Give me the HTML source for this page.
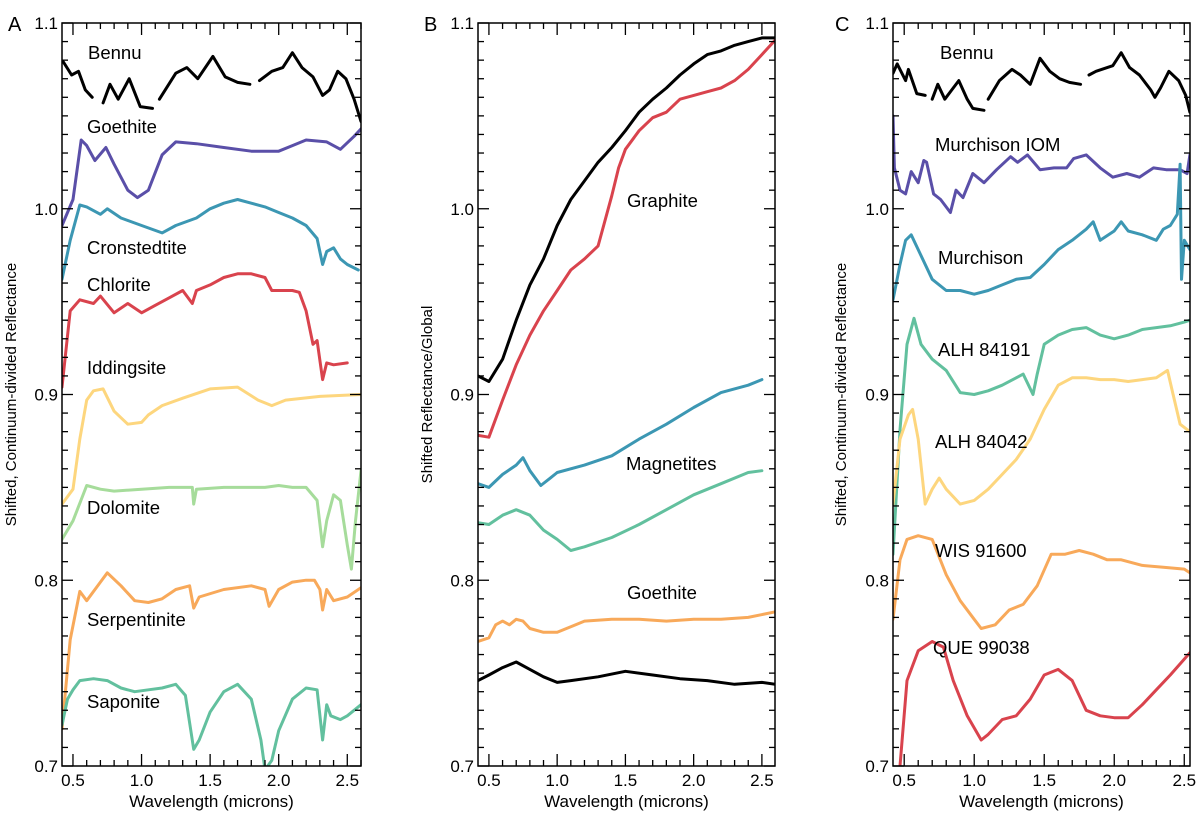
<!DOCTYPE html>
<html><head><meta charset="utf-8">
<style>
html,body{margin:0;padding:0;background:#fff;}
svg{display:block;font-family:"Liberation Sans",Arial,sans-serif;}
</style></head>
<body>
<svg id="chart" width="1200" height="813" viewBox="0 0 1200 813" xmlns="http://www.w3.org/2000/svg"></svg>
<script>
// ---- Panel A data (wavelength, reflectance) ----
const aBennuX=[0.43,0.49,0.54,0.59,0.64,null,0.72,0.77,0.83,0.91,0.99,1.08,null,1.13,1.25,1.33,1.41,1.52,1.61,1.70,1.79,null,1.86,1.95,2.03,2.10,2.17,2.25,2.32,2.37,2.43,2.49,2.55,2.60];
const aBennuY=[1.079,1.072,1.074,1.064,1.060,null,1.057,1.067,1.059,1.070,1.055,1.054,null,1.059,1.073,1.076,1.070,1.082,1.071,1.068,1.067,null,1.069,1.074,1.076,1.084,1.076,1.071,1.061,1.064,1.074,1.070,1.059,1.047];
const aGoeX=[0.42,0.5,0.56,0.6,0.66,0.74,0.8,0.9,0.97,1.05,1.15,1.25,1.4,1.6,1.8,2.0,2.1,2.2,2.35,2.45,2.55,2.6];
const aGoeY=[0.991,1.005,1.037,1.034,1.026,1.033,1.024,1.010,1.006,1.010,1.029,1.036,1.035,1.033,1.031,1.031,1.034,1.037,1.036,1.032,1.039,1.043];
const aCroX=[0.42,0.48,0.55,0.6,0.7,0.75,0.85,1.0,1.15,1.25,1.4,1.5,1.6,1.7,1.8,1.9,2.0,2.1,2.2,2.28,2.32,2.35,2.4,2.45,2.5,2.58];
const aCroY=[0.962,0.983,1.002,1.001,0.997,1.000,0.995,0.991,0.987,0.991,0.995,1.000,1.003,1.005,1.003,1.001,0.998,0.995,0.991,0.984,0.970,0.977,0.979,0.973,0.970,0.967];
const aChlX=[0.42,0.48,0.55,0.65,0.7,0.8,0.9,1.0,1.1,1.2,1.3,1.37,1.4,1.5,1.6,1.7,1.8,1.9,1.95,2.0,2.1,2.15,2.2,2.25,2.28,2.32,2.35,2.4,2.5];
const aChlY=[0.904,0.945,0.951,0.949,0.953,0.944,0.949,0.944,0.948,0.952,0.956,0.949,0.956,0.959,0.963,0.965,0.965,0.963,0.956,0.956,0.956,0.955,0.945,0.927,0.929,0.908,0.917,0.916,0.917];
const aIddX=[0.42,0.5,0.55,0.6,0.65,0.72,0.8,0.9,1.0,1.05,1.15,1.3,1.5,1.7,1.85,1.95,2.05,2.3,2.6];
const aIddY=[0.841,0.849,0.876,0.897,0.902,0.903,0.891,0.884,0.885,0.889,0.894,0.898,0.903,0.904,0.897,0.894,0.897,0.899,0.900];
const aDolX=[0.42,0.5,0.6,0.7,0.8,1.0,1.2,1.37,1.38,1.4,1.6,1.8,1.9,2.0,2.1,2.2,2.28,2.32,2.35,2.4,2.45,2.5,2.53,2.56,2.6];
const aDolY=[0.822,0.832,0.851,0.849,0.848,0.849,0.850,0.850,0.841,0.849,0.850,0.850,0.850,0.851,0.850,0.850,0.843,0.818,0.832,0.846,0.843,0.819,0.806,0.832,0.859];
const aSerX=[0.42,0.48,0.55,0.6,0.7,0.75,0.85,0.95,1.05,1.15,1.25,1.35,1.38,1.42,1.6,1.8,1.9,1.93,2.0,2.1,2.2,2.26,2.3,2.32,2.35,2.4,2.5,2.6];
const aSerY=[0.720,0.768,0.794,0.789,0.799,0.804,0.797,0.789,0.788,0.790,0.795,0.797,0.785,0.791,0.795,0.797,0.795,0.786,0.795,0.799,0.800,0.800,0.795,0.784,0.795,0.789,0.791,0.796];
const aSapX=[0.42,0.46,0.5,0.55,0.65,0.75,0.85,0.95,1.05,1.15,1.25,1.32,1.38,1.42,1.5,1.6,1.7,1.8,1.87,1.9,1.95,2.0,2.1,2.2,2.28,2.32,2.35,2.38,2.45,2.5,2.6];
const aSapY=[0.722,0.736,0.741,0.746,0.747,0.746,0.742,0.740,0.741,0.742,0.744,0.738,0.709,0.714,0.729,0.740,0.744,0.736,0.714,0.698,0.703,0.719,0.736,0.742,0.741,0.714,0.733,0.727,0.725,0.727,0.733];
// ---- Panel B data ----
const bTopX=[0.42,0.5,0.6,0.7,0.8,0.9,1.0,1.1,1.2,1.3,1.4,1.5,1.6,1.7,1.8,1.9,2.0,2.1,2.2,2.3,2.4,2.5,2.6];
const bTopY=[0.910,0.907,0.919,0.940,0.959,0.973,0.991,1.005,1.015,1.025,1.033,1.042,1.052,1.059,1.065,1.072,1.078,1.083,1.085,1.088,1.090,1.092,1.092];
const bGraX=[0.42,0.5,0.6,0.7,0.8,0.9,1.0,1.1,1.2,1.3,1.4,1.45,1.5,1.6,1.7,1.8,1.9,2.0,2.1,2.2,2.3,2.4,2.5,2.6];
const bGraY=[0.878,0.877,0.897,0.916,0.932,0.945,0.956,0.967,0.973,0.980,1.007,1.022,1.032,1.042,1.049,1.052,1.059,1.061,1.063,1.065,1.069,1.075,1.083,1.091];
const bMag1X=[0.42,0.5,0.6,0.7,0.75,0.8,0.88,0.95,1.0,1.2,1.4,1.6,1.8,2.0,2.2,2.4,2.5];
const bMag1Y=[0.852,0.850,0.857,0.862,0.866,0.859,0.851,0.855,0.858,0.862,0.867,0.876,0.884,0.893,0.901,0.905,0.908];
const bMag2X=[0.42,0.5,0.6,0.7,0.8,0.9,1.0,1.1,1.2,1.4,1.6,1.8,2.0,2.2,2.4,2.5];
const bMag2Y=[0.831,0.830,0.835,0.838,0.835,0.827,0.822,0.816,0.818,0.823,0.830,0.838,0.846,0.852,0.858,0.859];
const bGoeX=[0.42,0.5,0.55,0.6,0.65,0.7,0.75,0.8,0.9,1.0,1.1,1.2,1.4,1.6,1.8,2.0,2.2,2.4,2.6];
const bGoeY=[0.767,0.769,0.776,0.778,0.776,0.779,0.778,0.774,0.772,0.772,0.775,0.778,0.779,0.779,0.778,0.779,0.779,0.780,0.783];
const bBotX=[0.42,0.5,0.6,0.7,0.8,0.9,1.0,1.1,1.3,1.5,1.7,1.9,2.1,2.3,2.5,2.6];
const bBotY=[0.746,0.749,0.753,0.756,0.752,0.748,0.745,0.746,0.748,0.751,0.749,0.747,0.746,0.744,0.745,0.744];
// ---- Panel C data ----
const cBennuX=[0.42,0.45,0.51,0.53,0.59,0.65,null,0.70,0.74,0.79,0.84,0.89,0.95,0.99,1.07,null,1.10,1.18,1.27,1.33,1.40,1.47,1.54,1.61,1.68,1.76,null,1.82,1.87,1.95,1.99,2.05,2.11,2.18,2.26,2.29,2.33,2.39,2.46,2.51,2.54];
const cBennuY=[1.073,1.078,1.069,1.075,1.062,1.061,null,1.059,1.067,1.059,1.064,1.069,1.059,1.054,1.053,null,1.059,1.069,1.075,1.072,1.067,1.081,1.074,1.070,1.068,1.067,null,1.072,1.074,1.076,1.077,1.084,1.076,1.072,1.064,1.060,1.065,1.074,1.069,1.061,1.052];
const cIomX=[0.42,0.43,0.47,0.51,0.55,0.60,0.64,0.66,0.71,0.76,0.83,0.87,0.92,0.99,1.07,1.16,1.26,1.31,1.38,1.47,1.57,1.66,1.71,1.80,1.90,1.99,2.09,2.18,2.28,2.37,2.47,2.52,2.54];
const cIomY=[1.050,1.022,1.010,1.008,1.020,1.014,1.026,1.025,1.008,1.005,0.998,1.010,1.006,1.019,1.014,1.021,1.028,1.025,1.029,1.021,1.022,1.022,1.027,1.029,1.022,1.017,1.019,1.017,1.022,1.021,1.021,1.019,1.029];
const cMurX=[0.42,0.47,0.51,0.55,0.6,0.7,0.8,0.9,1.0,1.1,1.2,1.3,1.4,1.5,1.6,1.7,1.8,1.85,1.9,2.0,2.05,2.1,2.2,2.3,2.35,2.4,2.45,2.47,2.48,2.5,2.54];
const cMurY=[0.951,0.970,0.983,0.986,0.978,0.962,0.956,0.956,0.954,0.956,0.959,0.962,0.963,0.970,0.978,0.983,0.989,0.993,0.983,0.988,0.993,0.988,0.986,0.983,0.989,0.991,0.997,1.024,0.962,0.983,0.978];
const cA191X=[0.42,0.47,0.52,0.57,0.62,0.7,0.8,0.9,1.0,1.1,1.2,1.3,1.35,1.42,1.45,1.5,1.6,1.7,1.8,1.9,2.0,2.1,2.2,2.3,2.4,2.5,2.54];
const cA191Y=[0.814,0.881,0.927,0.941,0.927,0.919,0.913,0.901,0.900,0.902,0.905,0.909,0.911,0.900,0.911,0.927,0.932,0.935,0.936,0.932,0.930,0.932,0.935,0.936,0.937,0.939,0.940];
const cA042X=[0.42,0.47,0.53,0.56,0.6,0.65,0.7,0.75,0.8,0.9,1.0,1.1,1.2,1.3,1.4,1.5,1.6,1.7,1.8,1.9,2.0,2.1,2.2,2.3,2.38,2.42,2.47,2.54];
const cA042Y=[0.841,0.876,0.889,0.892,0.876,0.841,0.849,0.855,0.849,0.841,0.843,0.849,0.857,0.865,0.876,0.892,0.905,0.909,0.909,0.908,0.908,0.907,0.908,0.909,0.913,0.900,0.884,0.880];
const cWisX=[0.42,0.47,0.52,0.6,0.7,0.8,0.9,1.0,1.05,1.15,1.25,1.35,1.45,1.55,1.65,1.75,1.85,1.95,2.05,2.2,2.35,2.5,2.54];
const cWisY=[0.779,0.811,0.822,0.824,0.822,0.803,0.789,0.779,0.774,0.776,0.784,0.787,0.797,0.814,0.814,0.816,0.814,0.811,0.811,0.808,0.807,0.806,0.804];
const cQueX=[0.45,0.47,0.52,0.6,0.7,0.78,0.85,0.95,1.05,1.1,1.2,1.3,1.4,1.5,1.6,1.7,1.8,1.9,2.0,2.1,2.2,2.3,2.4,2.54];
const cQueY=[0.687,0.700,0.746,0.762,0.767,0.764,0.746,0.727,0.714,0.717,0.725,0.727,0.736,0.749,0.752,0.746,0.730,0.727,0.726,0.726,0.733,0.741,0.749,0.761];
// ---- ticks ----
const yTickLabels=["1.1","1.0","0.9","0.8","0.7"];
const yTickVals=[1.1,1.0,0.9,0.8,0.7];
const xTickLabels=["0.5","1.0","1.5","2.0","2.5"];
const xTickVals=[0.5,1.0,1.5,2.0,2.5];

const NS="http://www.w3.org/2000/svg";
const svg=document.getElementById('chart');
function mk(tag,attrs,parent){const e=document.createElementNS(NS,tag);for(const k in attrs)e.setAttribute(k,attrs[k]);(parent||svg).appendChild(e);return e;}

const panels=[
 {id:'a',letter:'A',left:62,right:361,x0:0.42,x1:2.60,title:'Shifted, Continuum-divided Reflectance',titleX:16,letterX:8},
 {id:'b',letter:'B',left:478,right:775,x0:0.42,x1:2.596,title:'Shifted Reflectance/Global',titleX:432,letterX:424},
 {id:'c',letter:'C',left:893,right:1190,x0:0.42,x1:2.541,title:'Shifted, Continuum-divided Reflectance',titleX:846,letterX:835}
];
const TOP=23,BOT=766,Y0=0.7,Y1=1.1;
function yS(v){return BOT-(v-Y0)/(Y1-Y0)*(BOT-TOP);}

panels.forEach(p=>{
 p.xS=v=>p.left+(v-p.x0)/(p.x1-p.x0)*(p.right-p.left);
 const g=mk('g',{});
 
 
 const cp=mk('clipPath',{id:'clip-'+p.id},g);
 mk('rect',{x:p.left,y:TOP,width:p.right-p.left,height:BOT-TOP},cp);
 p.g=g;
 p.plot=mk('g',{'clip-path':'url(#clip-'+p.id+')'},g);
 const L=mk('text',{x:p.letterX,y:31,'font-size':20},g);L.textContent=p.letter;
 
 
 const cy=(TOP+BOT)/2;
 const T=mk('text',{x:p.titleX,y:cy,'font-size':15,'text-anchor':'middle',transform:'rotate(-90 '+p.titleX+' '+cy+')'},g);T.textContent=p.title;
 
 
 const X=mk('text',{x:(p.left+p.right)/2,y:807,'font-size':17,'text-anchor':'middle'},g);X.textContent='Wavelength (microns)';
 
 
 const tk=mk('g',{stroke:'#000','stroke-width':1.3},g);
 
 
 for(let i=5;i<=26;i++){const v=i/10;if(v<p.x0||v>p.x1)continue;const x=p.xS(v);const len=(i%5===0)?12:6;
  mk('line',{x1:x,y1:BOT,x2:x,y2:BOT-len},tk);mk('line',{x1:x,y1:TOP,x2:x,y2:TOP+len},tk);}
 for(let i=70;i<=110;i++){const y=yS(i/100);const len=(i%10===0)?11:6;
  mk('line',{x1:p.left,y1:y,x2:p.left+len,y2:y},tk);mk('line',{x1:p.right,y1:y,x2:p.right-len,y2:y},tk);}
 yTickVals.forEach((v,i)=>{const t=mk('text',{x:p.left-4,y:yS(v)+6,'font-size':17,'text-anchor':'end'},g);t.textContent=yTickLabels[i];
  
  });
 xTickVals.forEach((v,i)=>{const t=mk('text',{x:p.xS(v),y:786,'font-size':17,'text-anchor':'middle'},g);t.textContent=xTickLabels[i];
  
  });
 const fr=mk('rect',{x:p.left,y:TOP,width:p.right-p.left,height:BOT-TOP,fill:'none',stroke:'#000','stroke-width':1.5},g);
 
 
});

function series(p,xs,ys,color,name){
 let d='',pen=false;
 for(let i=0;i<xs.length;i++){
  if(xs[i]===null||ys[i]===null){pen=false;continue;}
  d+=(pen?'L':'M')+p.xS(xs[i]).toFixed(1)+' '+yS(ys[i]).toFixed(1)+' ';pen=true;
 }
 const e=mk('path',{d:d,fill:'none',stroke:color,'stroke-width':3,'stroke-linejoin':'round','stroke-linecap':'round'},p.plot);
 
 
}
function label(p,x,y,txt,name){
 const t=mk('text',{x:x,y:y,'font-size':18.5},p.g);t.textContent=txt;
 
 
}
const [A,B,C]=panels;
const K='#000',PU='#5a4fa8',TB='#3c97b3',RD='#d9434d',YE='#fdd67e',LG='#a6dc9b',OR='#f8a95a',GR='#62c09e';
series(A,aBennuX,aBennuY,K,'line-bennu-a');
series(A,aGoeX,aGoeY,PU,'line-goethite-a');
series(A,aCroX,aCroY,TB,'line-cronstedtite');
series(A,aChlX,aChlY,RD,'line-chlorite');
series(A,aIddX,aIddY,YE,'line-iddingsite');
series(A,aDolX,aDolY,LG,'line-dolomite');
series(A,aSerX,aSerY,OR,'line-serpentinite');
series(A,aSapX,aSapY,GR,'line-saponite');
series(B,bTopX,bTopY,K,'line-bennu-b-top');
series(B,bGraX,bGraY,RD,'line-graphite');
series(B,bMag1X,bMag1Y,TB,'line-magnetite-1');
series(B,bMag2X,bMag2Y,GR,'line-magnetite-2');
series(B,bGoeX,bGoeY,OR,'line-goethite-b');
series(B,bBotX,bBotY,K,'line-bennu-b-bottom');
series(C,cBennuX,cBennuY,K,'line-bennu-c');
series(C,cIomX,cIomY,PU,'line-murchison-iom');
series(C,cMurX,cMurY,TB,'line-murchison');
series(C,cA191X,cA191Y,GR,'line-alh84191');
series(C,cA042X,cA042Y,YE,'line-alh84042');
series(C,cWisX,cWisY,OR,'line-wis91600');
series(C,cQueX,cQueY,RD,'line-que99038');

label(A,88,59,'Bennu','label-bennu-a');
label(A,87,133,'Goethite','label-goethite-a');
label(A,87,254,'Cronstedtite','label-cronstedtite');
label(A,87,291,'Chlorite','label-chlorite');
label(A,87,374,'Iddingsite','label-iddingsite');
label(A,87,514,'Dolomite','label-dolomite');
label(A,87,626,'Serpentinite','label-serpentinite');
label(A,87,708,'Saponite','label-saponite');
label(B,627,207,'Graphite','label-graphite');
label(B,626,470,'Magnetites','label-magnetites');
label(B,627,599,'Goethite','label-goethite-b');
label(C,940,59,'Bennu','label-bennu-c');
label(C,935,151,'Murchison IOM','label-murchison-iom');
label(C,938,264,'Murchison','label-murchison');
label(C,938,356,'ALH 84191','label-alh84191');
label(C,935,448,'ALH 84042','label-alh84042');
label(C,935,557,'WIS 91600','label-wis91600');
label(C,933,654,'QUE 99038','label-que99038');
</script>
</body></html>
